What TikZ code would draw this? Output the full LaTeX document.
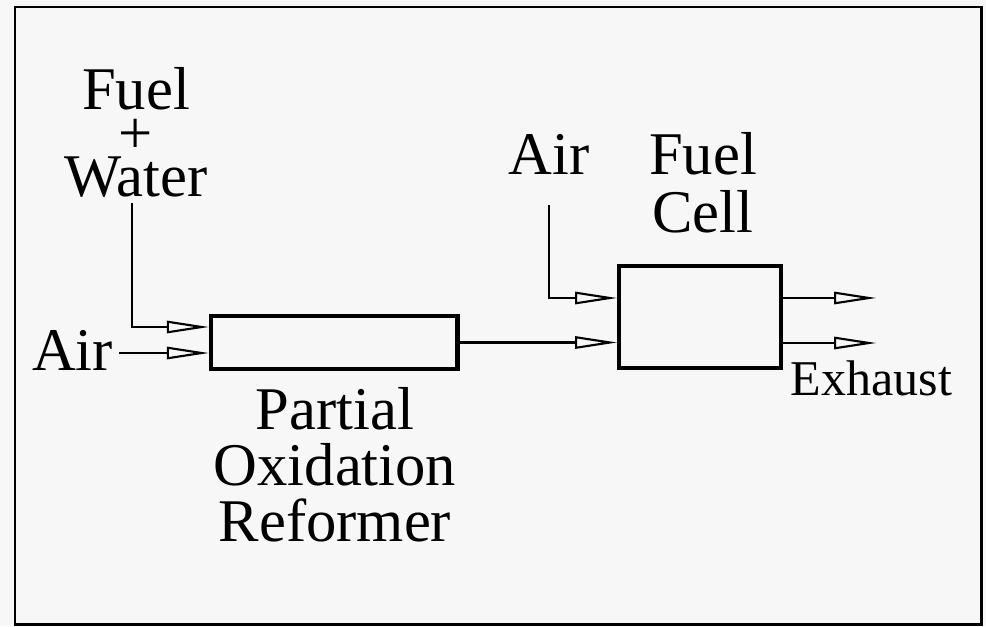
\documentclass[tikz,border=0pt]{standalone}
\usepackage{fontspec}
\setmainfont{Liberation Serif}
\usetikzlibrary{arrows.meta}

\begin{document}
\begin{tikzpicture}[x=1cm,y=1cm,
  lbl/.style={font=\fontsize{34.5}{31.8}\selectfont,align=center},
  unit/.style={draw,line width=2.3pt,inner sep=0pt},
  flow/.style={line width=1.2pt,-{Triangle[open,length=24pt,width=7pt]}}]
  \useasboundingbox[fill=black!3] (0,0) rectangle (19.72,12.52);
  \draw[line width=1.7pt] (0.3,0.04) rectangle (19.62,12.38);
  % units
  \node[unit,minimum width=4.93cm,minimum height=1.07cm] (reformer) at (6.685,5.67){};
  \node[unit,minimum width=3.23cm,minimum height=2.04cm] (cell) at (14,6.18){};
  % labels
  \node[lbl,font=\fontsize{34.5}{24.6}\selectfont] (fuelwater) at (2.72,9.87){Fuel\\+\\Water};
  \node[lbl,anchor=base] (airref) at (1.45,5.12){Air};
  \node[lbl,anchor=base] (aircell) at (10.98,9.02){Air};
  \node[lbl,font=\fontsize{34.5}{32.8}\selectfont] (celllbl) at (14.06,8.86){Fuel\\Cell};
  \node[lbl] (reflbl) at (6.7,3.22){Partial\\Oxidation\\Reformer};
  \node[lbl,font=\fontsize{28.5}{30}\selectfont,anchor=base] (exhaust) at (17.43,4.62){Exhaust};
  % streams
  \coordinate (refin1) at ([yshift=0.31cm]reformer.west);
  \coordinate (refin2) at ([yshift=-0.21cm]reformer.west);
  \coordinate (cellin1) at ([yshift=0.38cm]cell.west);
  \coordinate (out1) at ([xshift=1.87cm,yshift=0.38cm]cell.east);
  \coordinate (out2) at ([xshift=1.87cm,yshift=-0.52cm]cell.east);
  \draw[flow] ([xshift=-0.08cm]fuelwater.south) |- (refin1);
  \draw[flow] (airref.east |- refin2) -- (refin2);
  \draw[flow] (reformer.east) -- (reformer.east -| cell.west);
  \draw[flow] ([yshift=-0.47cm]aircell.south) |- (cellin1);
  \draw[flow] (cell.east |- out1) -- (out1);
  \draw[flow] (cell.east |- out2) -- (out2);
\end{tikzpicture}
\end{document}
